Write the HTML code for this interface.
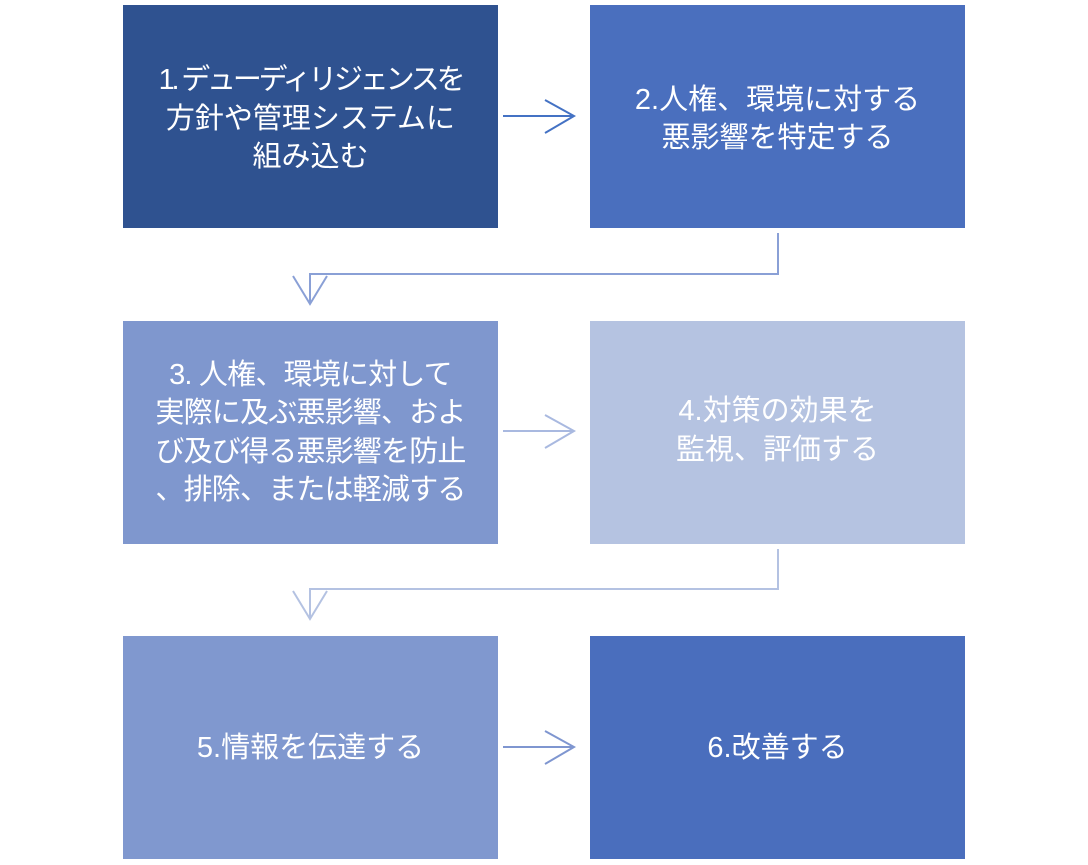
<!DOCTYPE html>
<html>
<head>
<meta charset="utf-8">
<style>
  html, body { margin:0; padding:0; background:#ffffff; }
  body { width:1088px; height:865px; position:relative; overflow:hidden;
         font-family:"Liberation Sans","Noto Sans CJK JP",sans-serif; }
  .box { position:absolute; width:375px; height:223px; display:flex;
         align-items:center; justify-content:center; text-align:center;
         color:#ffffff; font-size:29px; line-height:38.5px; white-space:nowrap; box-sizing:border-box; }
  svg { position:absolute; left:0; top:0; }
</style>
</head>
<body>
  <div class="box" style="left:123px;top:5px;background:#2F5290;padding-top:5px;"><div><span style="letter-spacing:-3.2px">1. デューディリジェンスを</span><br>方針や管理システムに<br>組み込む</div></div>
  <div class="box" style="left:590px;top:5px;background:#4A6FBE;padding-top:5px;"><div>2.人権、環境に対する<br>悪影響を特定する</div></div>
  <div class="box" style="left:123px;top:321px;background:#7F97CE;"><div><span style="letter-spacing:-0.8px">3. 人権、環境に対して<br>実際に及ぶ悪影響、およ<br>び及び得る悪影響を防止<br>、排除、または軽減する</span></div></div>
  <div class="box" style="left:590px;top:321px;background:#B5C3E1;padding-bottom:4px;"><div>4.対策の効果を<br>監視、評価する</div></div>
  <div class="box" style="left:123px;top:636px;background:#8098CF;padding-top:2px;"><div>5.情報を伝達する</div></div>
  <div class="box" style="left:590px;top:636px;background:#4A6EBD;padding-top:2px;"><div>6.改善する</div></div>

  <svg width="1088" height="865" viewBox="0 0 1088 865" fill="none" stroke-width="2" stroke-linejoin="miter">
    <line x1="503" y1="116" x2="574" y2="116" stroke="#4472C4"/>
    <polyline points="545,100 574,116 545,133" stroke="#4472C4"/>
    <polyline points="778,233 778,274 310,274 310,303" stroke="#8AA0D6"/>
    <polyline points="293,276 310,304 327,276" stroke="#8AA0D6"/>
    <line x1="503" y1="431" x2="574" y2="431" stroke="#A9B9E0"/>
    <polyline points="545,415 574,431 545,448" stroke="#A9B9E0"/>
    <polyline points="778,549 778,589 310,589 310,618" stroke="#B4C2E2"/>
    <polyline points="293,591 310,619 327,591" stroke="#B4C2E2"/>
    <line x1="503" y1="747" x2="574" y2="747" stroke="#7F96D0"/>
    <polyline points="545,731 574,747 545,764" stroke="#7F96D0"/>
  </svg>
</body>
</html>
